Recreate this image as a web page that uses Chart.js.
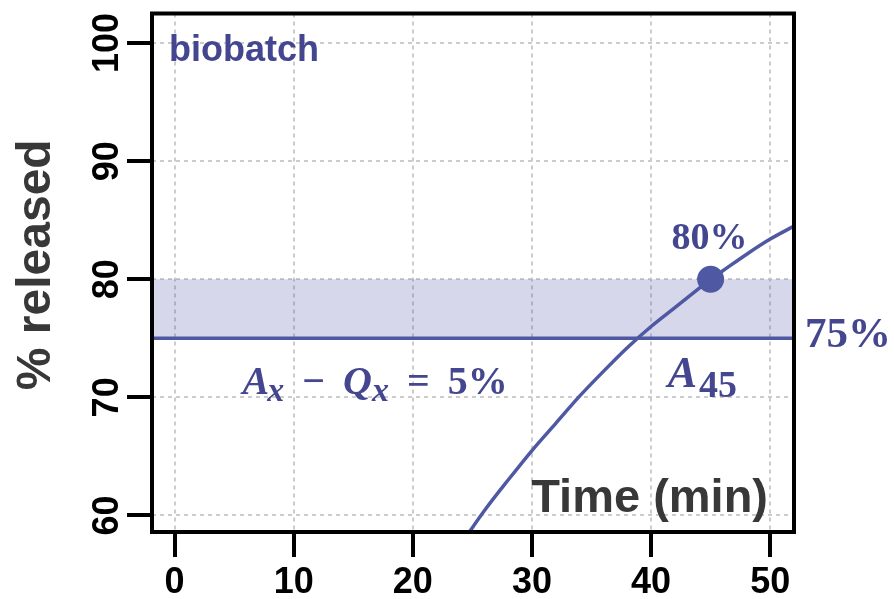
<!DOCTYPE html>
<html>
<head>
<meta charset="utf-8">
<title>biobatch release</title>
<script src="https://cdn.jsdelivr.net/npm/chart.js@4.4.1/dist/chart.umd.min.js"></script>
<style>
  html, body { margin: 0; padding: 0; background: #fff; }
  #wrap { width: 894px; height: 599px; }
</style>
</head>
<body>
<div id="wrap"><canvas id="releaseChart"></canvas></div>
<script>
// Dissolution profile of the biobatch: % released vs time (min)
const timePoints = [24.6, 26, 28, 30, 32, 34, 36, 38, 40, 42, 44, 45, 46, 48, 50, 52];
const releasedValues = [58.4, 60.4, 63.0, 65.5, 67.8, 70.1, 72.2, 74.2, 76.0, 77.6, 79.2, 80.0, 80.7, 82.1, 83.4, 84.5];

// A45 point and the Q / A limits
const markerTime = [45];
const markerValue = [80];
const bandLimits = [75, 80];

// Axes
const xTicks = [0, 10, 20, 30, 40, 50];
const yTicks = [60, 70, 80, 90, 100];
const xRange = [-1.9, 52];
const yRange = [58.6, 102.5];

const purple = '#4f58a3';
const textPurple = '#44468f';
const sans = '"Liberation Sans", Arial, sans-serif';
const serif = '"Liberation Serif", "Times New Roman", serif';

// draws a row of text pieces (for the subscripted formulas)
function drawRuns(ctx, x, y, runs) {
    let cx = x;
    runs.forEach(r => {
        cx += r.gap || 0;
        ctx.font = r.font;
        ctx.fillText(r.text, cx, y + (r.dy || 0));
        cx += ctx.measureText(r.text).width;
    });
}

const frameAndLabels = {
    id: 'frameAndLabels',
    afterDraw(chart) {
        const { ctx, chartArea: a, scales: { x, y } } = chart;
        ctx.save();

        // box round the plot
        ctx.strokeStyle = '#000';
        ctx.lineWidth = 4;
        ctx.strokeRect(a.left, a.top, a.right - a.left, a.bottom - a.top);

        // y tick labels, turned on their side
        ctx.fillStyle = '#000';
        ctx.font = 'bold 36px ' + sans;
        ctx.textAlign = 'center';
        ctx.textBaseline = 'alphabetic';
        yTicks.forEach(v => {
            ctx.save();
            ctx.translate(a.left - 34, y.getPixelForValue(v));
            ctx.rotate(-Math.PI / 2);
            ctx.fillText(String(v), 0, 0);
            ctx.restore();
        });

        // y axis title
        ctx.fillStyle = '#383838';
        ctx.font = 'bold 48px ' + sans;
        ctx.save();
        ctx.translate(50, (a.top + a.bottom) / 2 - 8);
        ctx.rotate(-Math.PI / 2);
        ctx.fillText('% released', 0, 0);
        ctx.restore();

        // x axis title sits inside the plot
        ctx.textAlign = 'right';
        ctx.font = 'bold 47px ' + sans;
        ctx.fillText('Time (min)', a.right - 26, a.bottom - 20);

        // batch name
        ctx.textAlign = 'left';
        ctx.fillStyle = textPurple;
        ctx.font = 'bold 36px ' + sans;
        ctx.fillText('biobatch', a.left + 17, a.top + 47);

        // value labels
        ctx.textAlign = 'center';
        ctx.font = 'bold 38px ' + serif;
        ctx.fillText(markerValue[0] + '%', x.getPixelForValue(markerTime[0]) - 1, y.getPixelForValue(markerValue[0]) - 30);

        ctx.textAlign = 'left';
        ctx.font = 'bold 43px ' + serif;
        ctx.fillText(bandLimits[0] + '%', a.right + 11, y.getPixelForValue(bandLimits[0]) + 9);

        const bi = 'italic bold 40px ' + serif;
        const biSub = 'italic bold 34px ' + serif;
        const b = 'bold 40px ' + serif;
        drawRuns(ctx, x.getPixelForValue(5.7), y.getPixelForValue(70.3), [
            { text: 'A', font: bi },
            { text: 'x', font: biSub, dy: 7, gap: -2 },
            { text: '\u2212', font: b, gap: 18 },
            { text: 'Q', font: bi, gap: 18 },
            { text: 'x', font: biSub, dy: 7 },
            { text: '=', font: b, gap: 18 },
            { text: (bandLimits[1] - bandLimits[0]) + '%', font: b, gap: 18 }
        ]);

        drawRuns(ctx, x.getPixelForValue(41.4), y.getPixelForValue(70.85), [
            { text: 'A', font: 'italic bold 44px ' + serif },
            { text: String(markerTime[0]), font: 'bold 38px ' + serif, dy: 10, gap: 2 }
        ]);

        ctx.restore();
    }
};

const gridOpts = {
    color: '#cccccc',
    lineWidth: 2,
    tickLength: 25,
    tickWidth: 4,
    tickColor: '#000'
};

new Chart(document.getElementById('releaseChart'), {
    type: 'scatter',
    data: {
        datasets: [
            {
                // band between Q and A
                data: xRange.map(t => ({ x: t, y: bandLimits[1] })),
                showLine: true,
                borderWidth: 0,
                pointRadius: 0,
                backgroundColor: 'rgba(80, 85, 165, 0.235)',
                fill: { value: bandLimits[0] },
                order: 3
            },
            {
                // Q line
                data: xRange.map(t => ({ x: t, y: bandLimits[0] })),
                showLine: true,
                borderColor: purple,
                borderWidth: 3.5,
                pointRadius: 0,
                order: 2
            },
            {
                // release curve
                data: timePoints.map((t, i) => ({ x: t, y: releasedValues[i] })),
                showLine: true,
                borderColor: purple,
                borderWidth: 3.5,
                pointRadius: 0,
                cubicInterpolationMode: 'monotone',
                order: 1
            },
            {
                // A45
                data: markerTime.map((t, i) => ({ x: t, y: markerValue[i] })),
                pointRadius: 13.5,
                backgroundColor: purple,
                borderWidth: 0,
                order: 0
            }
        ]
    },
    options: {
        responsive: true,
        maintainAspectRatio: false,
        animation: false,
        layout: { padding: { top: 10, right: 100, left: 0, bottom: 0 } },
        plugins: {
            legend: { display: false },
            tooltip: { enabled: false }
        },
        scales: {
            x: {
                type: 'linear',
                min: xRange[0],
                max: xRange[1],
                afterBuildTicks: s => { s.ticks = xTicks.map(v => ({ value: v })); },
                afterFit: s => { s.height = 67; },
                grid: gridOpts,
                border: { display: false, dash: [4, 4] },
                ticks: {
                    color: '#000',
                    padding: 4,
                    maxRotation: 0,
                    font: { family: sans, size: 36, weight: 'bold' }
                }
            },
            y: {
                type: 'linear',
                min: yRange[0],
                max: yRange[1],
                afterBuildTicks: s => { s.ticks = yTicks.map(v => ({ value: v })); },
                afterFit: s => { s.width = 152; },
                grid: gridOpts,
                border: { display: false, dash: [4, 4] },
                ticks: { display: false }
            }
        }
    },
    plugins: [frameAndLabels]
});
</script>
</body>
</html>
